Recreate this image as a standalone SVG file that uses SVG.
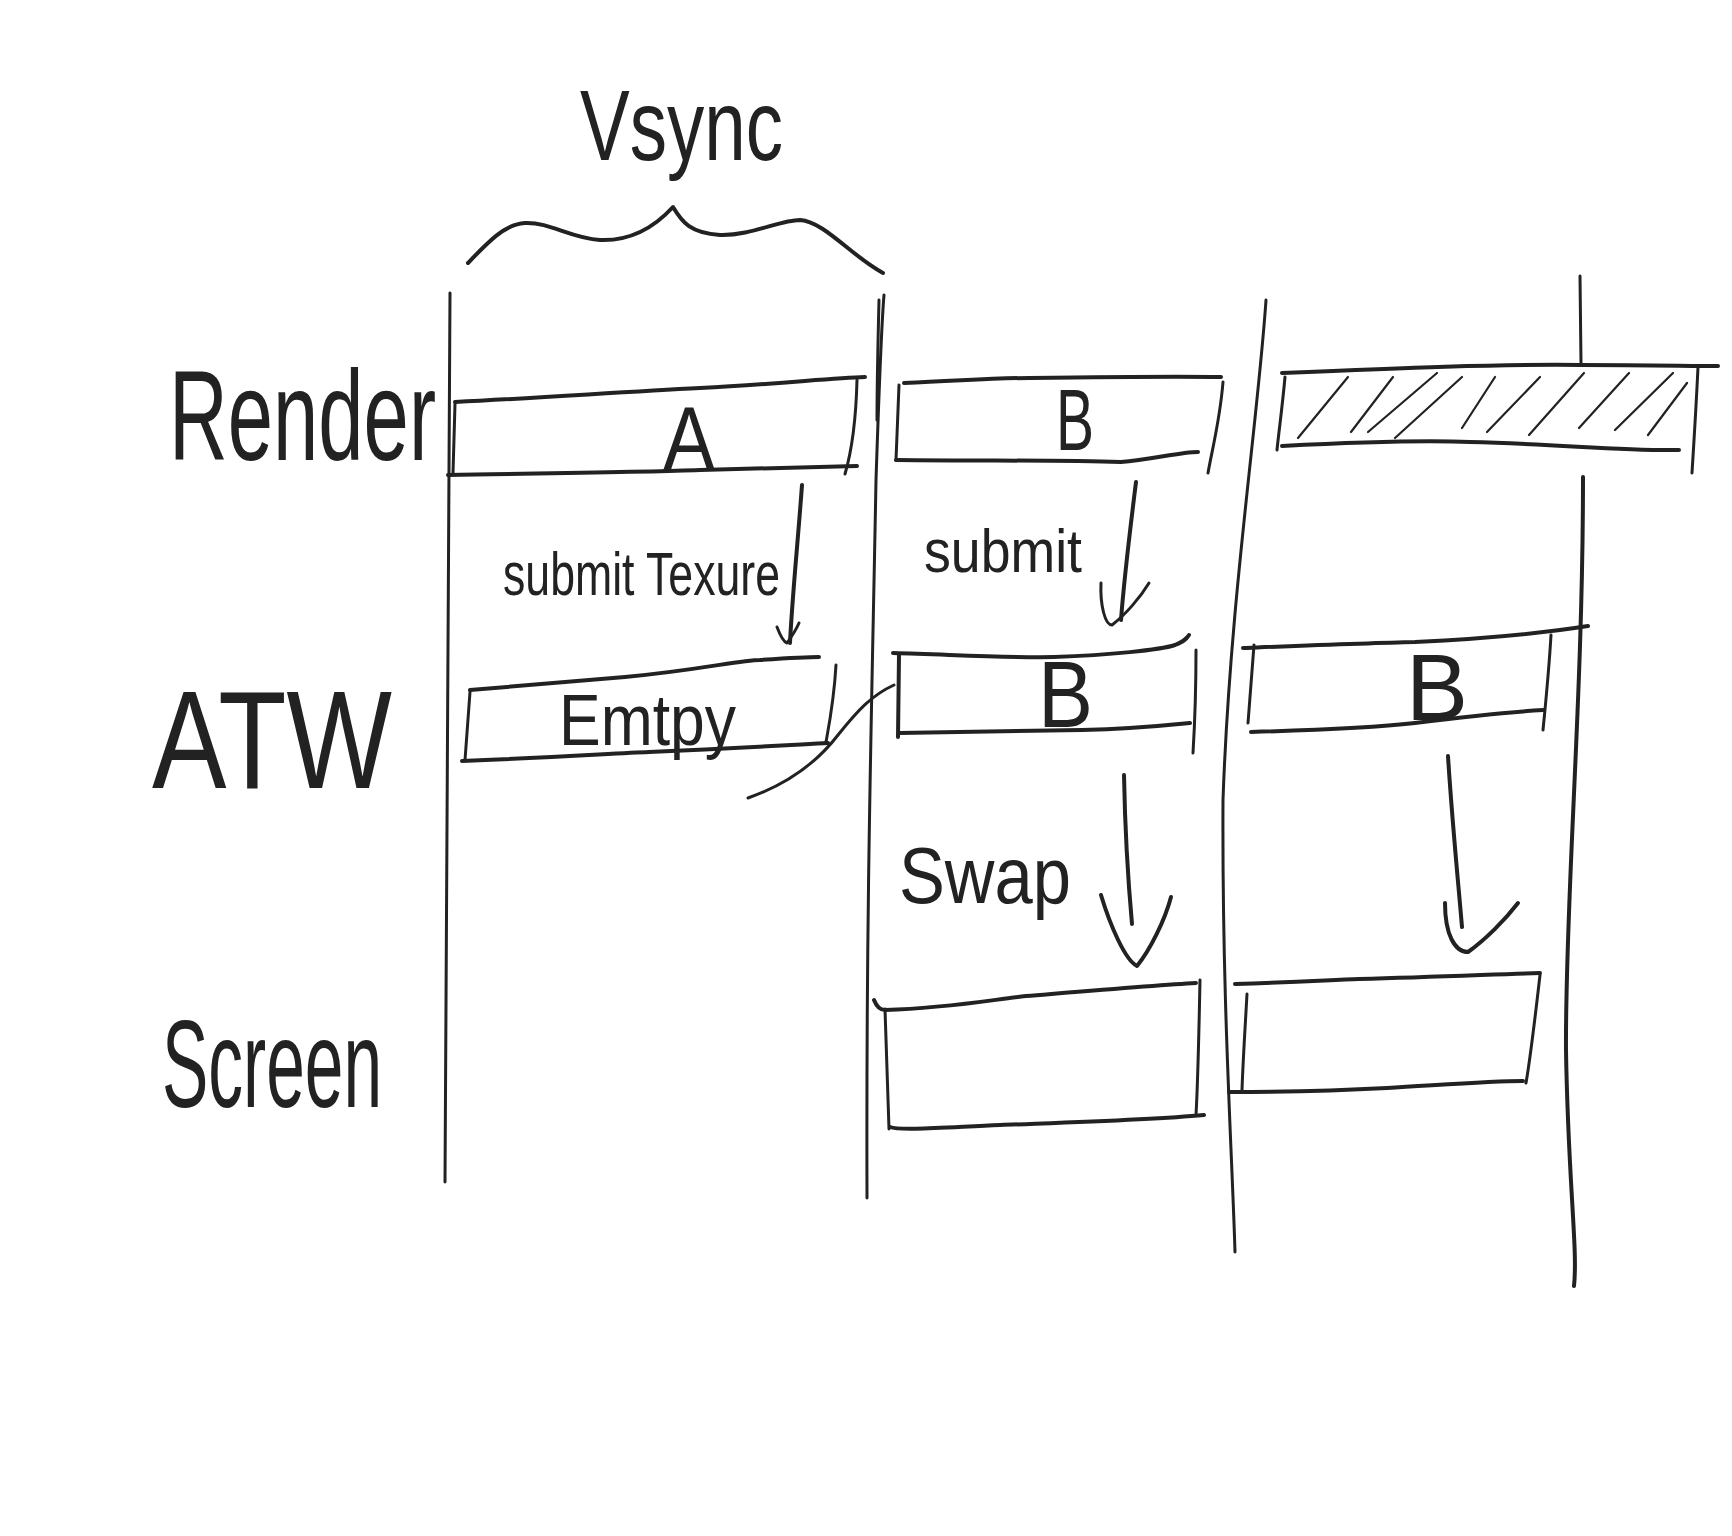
<svg xmlns="http://www.w3.org/2000/svg" width="1732" height="1536" viewBox="0 0 1732 1536">
<style>
.s{fill:none;stroke:#222;stroke-width:4;stroke-linecap:round;stroke-linejoin:round}
.t{fill:none;stroke:#222;stroke-width:3;stroke-linecap:round;stroke-linejoin:round}
.h{fill:none;stroke:#222;stroke-width:2.2;stroke-linecap:round}
.tx{fill:#222;font-family:"Liberation Sans","DejaVu Sans",sans-serif;font-weight:normal}
</style>
<rect width="1732" height="1536" fill="#fff"/>
<g id="vsync">
<text class="tx" x="580" y="160" font-size="100" textLength="203" lengthAdjust="spacingAndGlyphs">Vsync</text>
<path class="s" d="M468,263 C488,242 505,224 525,223 C550,222 570,238 600,240 C625,241 650,232 673,207 C682,222 690,233 720,235 C750,236 780,220 800,220 C825,222 850,255 883,273"/>
</g>
<g id="lanes">
<path class="t" d="M450,293 C448,600 445,900 445,1182"/>
<path class="t" d="M884,295 C881,330 878,420 876,480 C872,700 866,900 867,1198"/>
<path class="t" d="M879,300 C878,340 877,380 877,420"/>
<path class="t" d="M1266,300 C1258,420 1230,600 1223,800 C1222,1000 1232,1150 1235,1252"/>
<path class="t" d="M1580,276 L1581,364"/>
<path class="s" d="M1583,477 C1583,700 1565,900 1566,1050 C1568,1180 1578,1250 1574,1286"/>
</g>
<g id="label-render"><text class="tx" x="169" y="460" font-size="128" textLength="267" lengthAdjust="spacingAndGlyphs">Render</text></g>
<g id="label-atw"><text class="tx" x="152" y="788" font-size="140" textLength="240" lengthAdjust="spacingAndGlyphs">ATW</text></g>
<g id="label-screen"><text class="tx" x="162" y="1107" font-size="125" textLength="220" lengthAdjust="spacingAndGlyphs">Screen</text></g>
<g id="render-a">
<path class="s" d="M455,402 C540,398 620,392 700,388 C780,384 830,378 865,377"/>
<path class="t" d="M455,404 L453,473"/>
<path class="s" d="M448,475 C560,473 650,472 700,470 C780,468 830,467 857,466"/>
<path class="t" d="M857,380 C856,420 852,450 845,474"/>
<text class="tx" x="663" y="470" font-size="90" textLength="52" lengthAdjust="spacingAndGlyphs">A</text>
</g>
<g id="render-b">
<path class="s" d="M904,383 C960,381 990,378 1030,378 C1100,377 1170,376 1221,377"/>
<path class="t" d="M899,385 L896,460"/>
<path class="s" d="M896,460 C990,461 1060,460 1121,462 C1150,460 1180,452 1198,452"/>
<path class="t" d="M1223,382 C1220,420 1212,450 1208,473"/>
<text class="tx" x="1056" y="450" font-size="88" textLength="38" lengthAdjust="spacingAndGlyphs">B</text>
</g>
<g id="render-hatched">
<path class="s" d="M1282,373 C1400,368 1500,364 1581,365 C1650,365 1690,366 1718,366"/>
<path class="t" d="M1285,377 C1282,410 1279,430 1277,450"/>
<path class="s" d="M1282,446 C1360,442 1420,440 1470,442 C1560,444 1620,451 1679,450"/>
<path class="t" d="M1698,367 C1696,410 1694,440 1692,473"/>
<path class="h" d="M1298,438 L1348,377 M1351,432 L1393,377 M1368,432 L1437,373 M1395,438 L1462,377 M1462,428 L1495,377 M1487,432 L1540,377 M1529,435 L1584,373 M1579,428 L1629,373 M1615,430 L1673,373 M1648,435 L1687,383"/>
</g>
<g id="atw-empty">
<path class="s" d="M470,690 C540,684 590,680 625,677 C700,670 740,660 760,660 C790,658 810,657 819,657"/>
<path class="t" d="M470,692 L465,760"/>
<path class="s" d="M462,761 C560,757 620,753 649,752 C740,748 790,745 828,743"/>
<path class="t" d="M836,665 C834,700 830,720 826,742"/>
<text class="tx" x="559" y="745" font-size="72" textLength="177" lengthAdjust="spacingAndGlyphs">Emtpy</text>
</g>
<g id="atw-b1">
<path class="s" d="M893,653 C960,655 1010,658 1054,657 C1110,655 1160,650 1175,645 C1182,642 1186,640 1189,635"/>
<path class="s" d="M899,655 L898,737"/>
<path class="s" d="M899,733 C980,732 1040,731 1082,730 C1130,729 1170,725 1190,723"/>
<path class="t" d="M1196,650 C1196,690 1195,720 1193,753"/>
<text class="tx" x="1038" y="727" font-size="95" textLength="55" lengthAdjust="spacingAndGlyphs">B</text>
</g>
<g id="atw-b2">
<path class="s" d="M1243,648 C1320,645 1370,643 1415,642 C1500,638 1550,632 1588,626"/>
<path class="t" d="M1254,645 L1248,723"/>
<path class="s" d="M1251,732 C1320,730 1370,728 1415,723 C1470,716 1510,712 1543,710"/>
<path class="t" d="M1551,635 C1549,670 1546,700 1543,730"/>
<text class="tx" x="1406" y="720" font-size="95" textLength="62" lengthAdjust="spacingAndGlyphs">B</text>
</g>
<g id="screen-1">
<path class="s" d="M874,1000 C876,1005 880,1010 885,1010 C950,1008 990,1000 1026,996 C1100,990 1160,985 1196,983"/>
<path class="t" d="M885,1009 C887,1060 888,1100 889,1129"/>
<path class="s" d="M890,1127 C900,1131 950,1127 1000,1125 C1080,1122 1150,1120 1204,1115"/>
<path class="t" d="M1200,980 C1199,1030 1198,1080 1196,1115"/>
</g>
<g id="screen-2">
<path class="s" d="M1235,984 C1300,982 1330,980 1359,979 C1440,977 1500,974 1540,973"/>
<path class="t" d="M1247,994 C1245,1030 1243,1060 1242,1090"/>
<path class="s" d="M1229,1092 C1300,1092 1350,1090 1387,1088 C1440,1085 1490,1081 1523,1081"/>
<path class="t" d="M1540,975 C1536,1010 1530,1060 1526,1083"/>
</g>
<g id="connectors">
<path class="s" d="M802,485 C798,540 792,600 790,643"/>
<path class="t" d="M777,627 C780,635 784,642 787,643 C792,636 796,630 799,623"/>
<path class="s" d="M1136,482 C1130,530 1124,580 1121,620"/>
<path class="t" d="M1101,583 C1100,605 1105,625 1112,625 C1125,615 1140,598 1149,583"/>
<path class="s" d="M1124,775 C1125,830 1128,880 1132,924"/>
<path class="s" d="M1101,895 C1110,925 1125,960 1137,966 C1150,950 1165,920 1171,897"/>
<path class="s" d="M1448,756 C1452,820 1458,880 1462,927"/>
<path class="s" d="M1445,903 C1445,935 1455,952 1468,952 C1485,940 1505,920 1518,903"/>
<path class="t" d="M748,798 C785,785 815,765 838,735 C858,710 872,695 894,685"/>
<text class="tx" x="503" y="595" font-size="62" textLength="277" lengthAdjust="spacingAndGlyphs">submit Texure</text>
<text class="tx" x="924" y="572" font-size="62" textLength="158" lengthAdjust="spacingAndGlyphs">submit</text>
<text class="tx" x="899" y="903" font-size="80" textLength="172" lengthAdjust="spacingAndGlyphs">Swap</text>
</g>
</svg>
